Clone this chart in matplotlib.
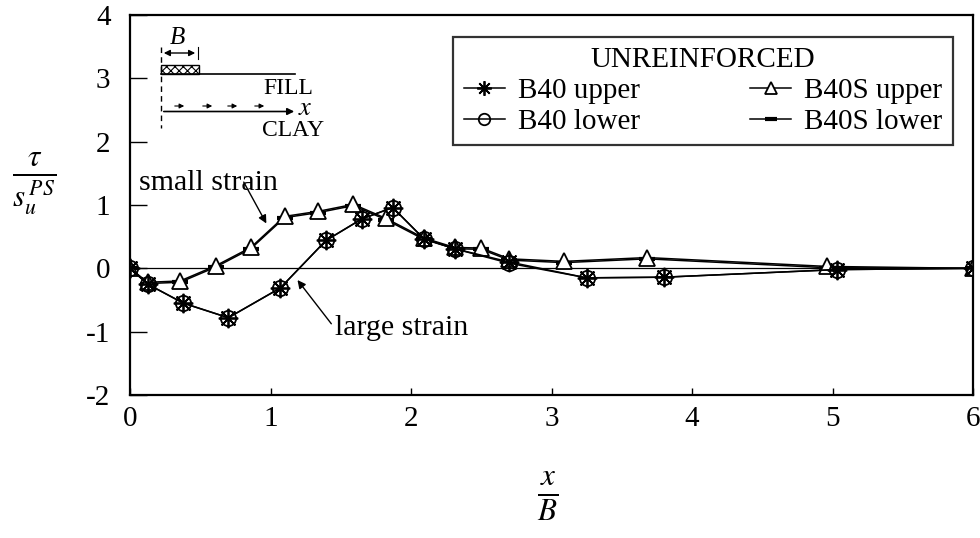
import matplotlib
matplotlib.use("Agg")
import matplotlib.pyplot as plt
from matplotlib.patches import Rectangle, FancyArrowPatch

plt.rcParams['font.family'] = ['Liberation Serif', 'DejaVu Serif']
plt.rcParams['mathtext.fontset'] = 'stix'
plt.rcParams['axes.unicode_minus'] = False
plt.rcParams['hatch.linewidth'] = 0.8

# ---- data (x/B, tau/su) ----
b40_upper_x = [0.0, 0.126, 0.38, 0.70, 1.07, 1.395, 1.65, 1.87, 2.09, 2.31, 2.70, 3.25, 3.80, 5.03, 6.0]
b40_upper_y = [0.0, -0.25, -0.55, -0.78, -0.31, 0.44, 0.78, 0.96, 0.47, 0.31, 0.10, -0.15, -0.14, -0.02, 0.0]
b40_lower_x = [0.0, 0.126, 0.38, 0.70, 1.07, 1.395, 1.65, 1.87, 2.09, 2.31, 2.70, 3.25, 3.80, 5.03, 6.0]
b40_lower_y = [0.0, -0.25, -0.55, -0.78, -0.31, 0.44, 0.78, 0.96, 0.47, 0.31, 0.08, -0.15, -0.14, -0.02, 0.0]

b40s_upper_x = [0.0, 0.126, 0.356, 0.61, 0.86, 1.10, 1.34, 1.59, 1.82, 2.09, 2.31, 2.50, 2.70, 3.09, 3.68, 4.96, 6.0]
b40s_upper_y = [0.0, -0.22, -0.20, 0.04, 0.33, 0.82, 0.90, 1.01, 0.79, 0.48, 0.33, 0.32, 0.15, 0.11, 0.17, 0.03, 0.0]
b40s_lower_x = [0.0, 0.126, 0.356, 0.61, 0.86, 1.10, 1.34, 1.59, 1.82, 2.09, 2.31, 2.50, 2.70, 3.09, 3.68, 4.96, 6.0]
b40s_lower_y = [0.0, -0.24, -0.22, 0.02, 0.31, 0.80, 0.88, 0.99, 0.77, 0.46, 0.31, 0.30, 0.13, 0.09, 0.15, 0.01, 0.0]

xticks = [0, 1, 2, 3, 4, 5, 6]
yticks = [-2, -1, 0, 1, 2, 3, 4]

W, H = 980, 538
fig = plt.figure(figsize=(W / 100, H / 100), dpi=100)
L, R, T, B = 130, 973, 15, 395
ax = fig.add_axes([L / W, 1 - B / H, (R - L) / W, (B - T) / H])

ax.axhline(0, color='black', lw=0.9, zorder=1)

ax.plot(b40s_lower_x, b40s_lower_y, color='black', lw=1.1, marker='_', ms=12, mew=3,
        label='B40S lower', zorder=2)
ax.plot(b40s_upper_x, b40s_upper_y, color='black', lw=1.1, marker='^', ms=11, mfc='white',
        mew=1.3, label='B40S upper', zorder=3)
ax.plot(b40_lower_x, b40_lower_y, color='black', lw=1.1, marker='o', ms=11, mfc='none',
        mew=1.3, label='B40 lower', zorder=4)
ax.plot(b40_upper_x, b40_upper_y, color='black', lw=1.1, marker=(8, 2, 0), ms=14,
        mew=1.3, label='B40 upper', zorder=5)

ax.set_xlim(0, 6)
ax.set_ylim(-2, 4)
ax.set_xticks(xticks)
ax.set_yticks(yticks)
ax.tick_params(axis='both', direction='in', labelsize=21, width=1.0, color='black')
ax.tick_params(axis='y', length=12, pad=14)
ax.tick_params(axis='x', length=5, pad=8)
for s in ax.spines.values():
    s.set_linewidth(1.6)

# legend
h = {l.get_label(): l for l in ax.get_lines() if not l.get_label().startswith('_')}
order = ['B40 upper', 'B40 lower', 'B40S upper', 'B40S lower']
leg = ax.legend([h[k] for k in order], order, ncol=2, title='UNREINFORCED',
                loc='upper right', bbox_to_anchor=(0.976, 0.942), fontsize=21,
                title_fontsize=21, frameon=True, fancybox=False, edgecolor='black',
                handlelength=1.4, handletextpad=0.45, columnspacing=3.8,
                labelspacing=0.15, borderpad=0.35, borderaxespad=0.0, markerscale=0.75)
leg.get_frame().set_linewidth(1.6)

# annotations
ax.text(0.56, 1.35, 'small strain', fontsize=21.5, ha='center', va='center')
ax.annotate('', xy=(0.98, 0.67), xytext=(0.80, 1.40),
            arrowprops=dict(arrowstyle='-|>', color='black', lw=1.0, mutation_scale=12))
ax.text(1.46, -0.94, 'large strain', fontsize=21.5, ha='left', va='center')
ax.annotate('', xy=(1.18, -0.15), xytext=(1.445, -0.91),
            arrowprops=dict(arrowstyle='-|>', color='black', lw=1.0, mutation_scale=12))

# overlay in pixel coordinates for schematic and axis labels
ov = fig.add_axes([0, 0, 1, 1], zorder=10)
ov.set_xlim(0, W)
ov.set_ylim(H, 0)
ov.axis('off')
ov.patch.set_alpha(0)

# schematic
ov.text(177, 38, 'B', fontsize=18, style='italic', ha='center', va='center')
ov.add_patch(FancyArrowPatch((161, 53), (198, 53), arrowstyle='<|-|>', mutation_scale=9,
                             color='black', lw=1.0))
ov.plot([198, 198], [47, 59], color='black', lw=0.8)
ov.add_patch(Rectangle((161, 65), 38, 9, fill=False, hatch='xxxx', lw=1.0, edgecolor='black'))
ov.plot([161, 295], [74, 74], color='black', lw=1.2)
ov.plot([161, 161], [47, 128], color='black', lw=1.0, ls=(0, (4, 3)))
ov.text(288, 88, 'FILL', fontsize=17, ha='center', va='center')
for x0 in [172, 200, 225, 252]:
    ov.add_patch(FancyArrowPatch((x0, 106), (x0 + 15, 106), arrowstyle='-|>', mutation_scale=7,
                                 color='black', lw=0.8))
ov.add_patch(FancyArrowPatch((161, 111.5), (297, 111.5), arrowstyle='-|>', mutation_scale=10,
                             color='black', lw=1.2))
ov.text(305, 109, '$x$', fontsize=19, ha='center', va='center')
ov.text(293, 131, 'CLAY', fontsize=17, ha='center', va='center')

# axis labels
ov.text(34, 184, r'$\frac{\tau}{s_u^{\,PS}}$', fontsize=32, ha='center', va='center')
ov.text(548, 496, r'$\frac{x}{B}$', fontsize=32, ha='center', va='center')

fig.savefig('out.png', dpi=100)
